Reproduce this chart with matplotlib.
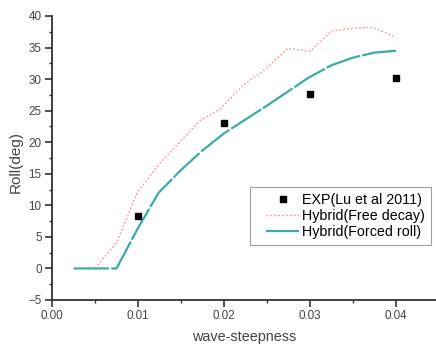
import matplotlib
matplotlib.use("Agg")
import matplotlib.pyplot as plt
from matplotlib.ticker import MultipleLocator, FormatStrFormatter
from matplotlib.lines import Line2D
from matplotlib.legend_handler import HandlerLine2D

plt.rcParams['font.family'] = ['Liberation Sans', 'DejaVu Sans']

exp_x = [0.01, 0.02, 0.03, 0.04]
exp_y = [8.3, 23.1, 27.6, 30.1]

free_x = [0.005, 0.0076, 0.0099, 0.0125, 0.015, 0.0172, 0.0195, 0.0222, 0.025, 0.0274, 0.030, 0.0325, 0.0352, 0.0373, 0.040]
free_y = [0.0, 4.3, 12.0, 16.6, 20.2, 23.4, 25.2, 29.0, 31.8, 34.9, 34.4, 37.6, 38.1, 38.2, 36.6]

forced_x = [0.0025, 0.0075, 0.010, 0.0124, 0.015, 0.0175, 0.020, 0.025, 0.0298, 0.0325, 0.035, 0.0375, 0.040]
forced_y = [0.0, 0.0, 6.4, 12.0, 15.6, 18.7, 21.4, 25.8, 30.2, 32.2, 33.4, 34.2, 34.5]

fig = plt.figure(figsize=(4.36, 3.45), dpi=100)
ax = fig.add_axes([52/436, 45/345, (436-52)/436, 284/345])

ax.plot(free_x, free_y, color='#f39a9a', lw=1.0, linestyle=(0, (1.3, 1.5)),
        label='Hybrid(Free decay)', zorder=2)
ax.plot(forced_x, forced_y, color='#3aaca8', lw=1.6, linestyle=(0, (16, 1.0)),
        label='Hybrid(Forced roll)', zorder=3)
ax.plot(exp_x, exp_y, linestyle='none', marker='s', color='black', ms=4.6,
        label='EXP(Lu et al 2011)', zorder=4)

ax.set_xlim(0, (436-52)/86*0.01)
ax.set_ylim(-5, 40)
ax.xaxis.set_major_locator(MultipleLocator(0.01))
ax.xaxis.set_minor_locator(MultipleLocator(0.005))
ax.yaxis.set_major_locator(MultipleLocator(5))
ax.yaxis.set_minor_locator(MultipleLocator(2.5))
ax.xaxis.set_major_formatter(FormatStrFormatter('%.2f'))

for s in ['top', 'right']:
    ax.spines[s].set_visible(False)
for s in ['left', 'bottom']:
    ax.spines[s].set_linewidth(1.3)
    ax.spines[s].set_color('#333333')

ax.tick_params(which='major', direction='out', length=5, width=1.2, labelsize=8.4,
               colors='#333333', labelcolor='#444444', pad=2.5)
ax.tick_params(which='minor', direction='out', length=2.5, width=1.0, colors='#333333')

ax.set_xlabel('wave-steepness', fontsize=10.4, color='#444444')
ax.set_ylabel('Roll(deg)', fontsize=11, color='#444444')
ax.xaxis.set_label_coords(0.5, -(337 - 300) / 284, transform=ax.transAxes)
ax.xaxis.label.set_va('center')
ax.yaxis.set_label_coords(-(52 - 15.5) / 384, (300 - 162) / 284, transform=ax.transAxes)
ax.yaxis.label.set_va('center')

handles, labels = ax.get_legend_handles_labels()
order = [2, 0, 1]
leg = ax.legend([handles[i] for i in order], [labels[i] for i in order],
                loc='upper left', bbox_to_anchor=((250-52)/384, (300-187)/284),
                fontsize=10.3, frameon=True, fancybox=False, edgecolor='#888888',
                handlelength=3.05, borderpad=0.4, labelspacing=0.15,
                handletextpad=0.2, borderaxespad=0, markerscale=0.85,
                handler_map={Line2D: HandlerLine2D(xpad=0.75)})
leg.get_frame().set_linewidth(0.8)

fig.savefig('out.png', dpi=100)
